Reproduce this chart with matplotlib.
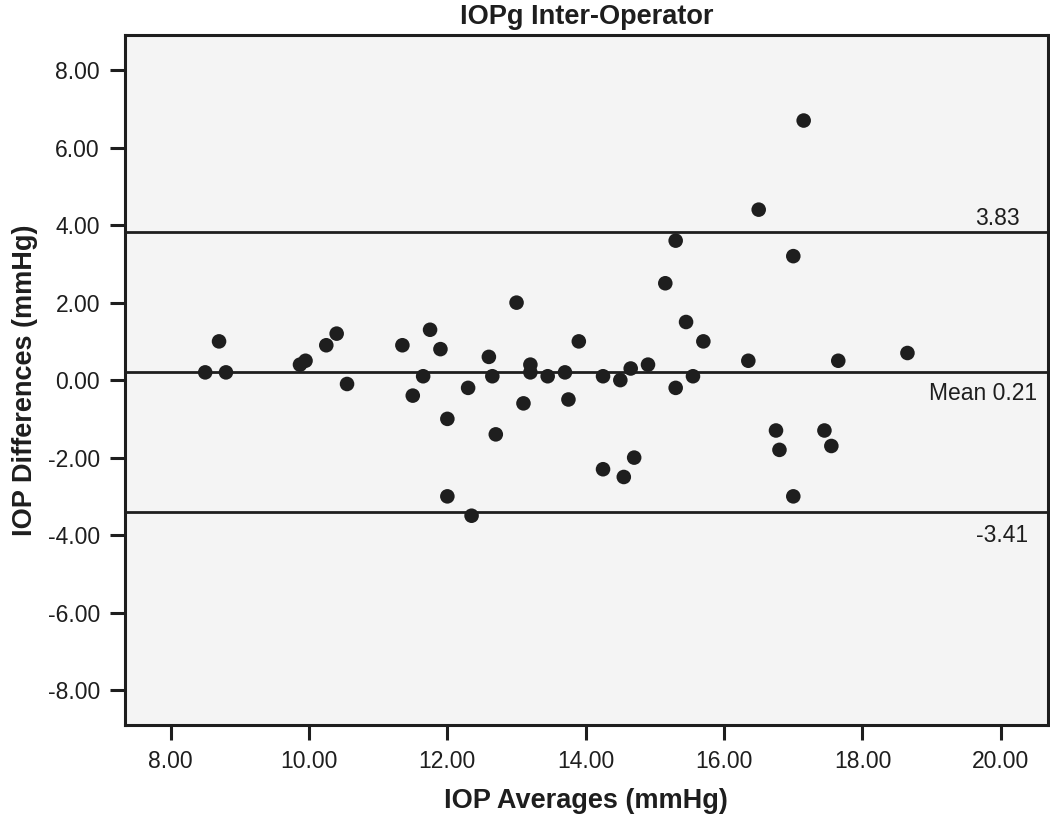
import matplotlib
matplotlib.use('Agg')

import numpy as np
import matplotlib.pyplot as plt

# IOP averages (x) and differences (y)
iop_avg = [8.5, 8.7, 8.8, 9.87, 9.95, 10.25, 10.4, 10.55, 11.35, 11.5,
           11.65, 11.75, 11.9, 12.0, 12.0, 12.3, 12.35, 12.6, 12.65, 12.7,
           13.0, 13.1, 13.2, 13.2, 13.45, 13.7, 13.75, 13.9, 14.25, 14.25,
           14.5, 14.55, 14.65, 14.7, 14.9, 15.15, 15.3, 15.3, 15.45, 15.55,
           15.7, 16.35, 16.5, 16.75, 16.8, 17.0, 17.0, 17.15, 17.45, 17.55,
           17.65, 18.65]
iop_diff = [0.2, 1.0, 0.2, 0.4, 0.5, 0.9, 1.2, -0.1, 0.9, -0.4,
            0.1, 1.3, 0.8, -1.0, -3.0, -0.2, -3.5, 0.6, 0.1, -1.4,
            2.0, -0.6, 0.4, 0.2, 0.1, 0.2, -0.5, 1.0, 0.1, -2.3,
            0.0, -2.5, 0.3, -2.0, 0.4, 2.5, 3.6, -0.2, 1.5, 0.1,
            1.0, 0.5, 4.4, -1.3, -1.8, 3.2, -3.0, 6.7, -1.3, -1.7,
            0.5, 0.7]

mean_diff = 0.21
upper_loa = 3.83
lower_loa = -3.41

xticks = [8, 10, 12, 14, 16, 18, 20]
yticks = [-8, -6, -4, -2, 0, 2, 4, 6, 8]

plt.rcParams['font.family'] = ['Liberation Sans', 'DejaVu Sans']
dark = '#1e1e1e'

fig = plt.figure(figsize=(10.5, 8.21), dpi=100)
ax = fig.add_axes([0.119, 0.117, 0.879, 0.840])
ax.set_facecolor('#f4f4f4')

for val in [upper_loa, mean_diff, lower_loa]:
    ax.axhline(val, color=dark, lw=2.0, zorder=2)

ax.scatter(iop_avg, iop_diff, s=110, color=dark, edgecolors='none', zorder=3)

ax.text(20.27, upper_loa + 0.05, '%.2f' % upper_loa, ha='right', va='bottom',
        fontsize=16.5, color=dark)
ax.text(20.52, mean_diff - 0.27, 'Mean %.2f' % mean_diff, ha='right', va='top',
        fontsize=16.5, color=dark)
ax.text(20.39, lower_loa - 0.3, '%.2f' % lower_loa, ha='right', va='top',
        fontsize=16.5, color=dark)

ax.set_xlim(7.34, 20.68)
ax.set_ylim(-8.9, 8.9)
ax.set_xticks(xticks)
ax.set_xticklabels(['%.2f' % v for v in xticks])
ax.set_yticks(yticks)
ax.set_yticklabels(['%.2f' % v for v in yticks])
ax.tick_params(axis='both', length=11, width=2.2, color=dark,
               labelsize=16.5, labelcolor=dark, pad=7)

for sp in ax.spines.values():
    sp.set_linewidth(2.2)
    sp.set_color(dark)

ax.set_title('IOPg Inter-Operator', fontsize=19.5, fontweight='bold',
             color=dark, pad=8)
ax.set_xlabel('IOP Averages (mmHg)', fontsize=19.5, fontweight='bold',
              color=dark, labelpad=11)
ax.set_ylabel('IOP Differences (mmHg)', fontsize=19.5, fontweight='bold',
              color=dark, labelpad=7)

plt.savefig('out.png', dpi=100)
